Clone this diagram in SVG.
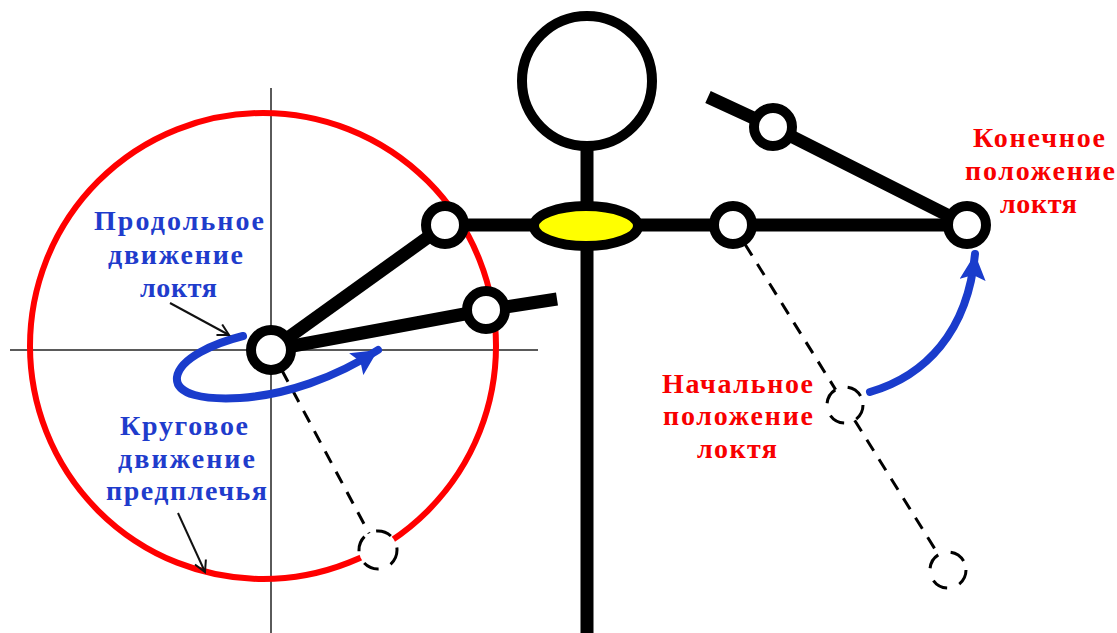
<svg xmlns="http://www.w3.org/2000/svg" width="1117" height="633" viewBox="0 0 1117 633">
<style>
.axis{stroke:#5a5a5a;stroke-width:2;fill:none}
.body{stroke:#000;stroke-width:13;fill:none;stroke-linecap:butt}
.joint{stroke:#000;stroke-width:10;fill:#fff}
.dash{stroke:#000;stroke-width:3;fill:none;stroke-dasharray:13 10}
.dashc{stroke:#000;stroke-width:3;fill:#fff;stroke-dasharray:16 13}
.blue{stroke:#1a3ccc;stroke-width:8;fill:none;stroke-linecap:round}
.thin{stroke:#111;stroke-width:2;fill:none}
.lb{font-family:"Liberation Serif","Times New Roman",serif;font-weight:bold;font-size:28px;fill:#1f3ccc}
.lr{font-family:"Liberation Serif","Times New Roman",serif;font-weight:bold;font-size:28px;fill:#f80000}
</style>
<defs>
<marker id="bh" markerUnits="userSpaceOnUse" markerWidth="28" markerHeight="26" refX="26" refY="13" orient="auto">
<path d="M0,0 L26,13 L0,26 L5,13 z" fill="#1a3ccc"/>
</marker>
<marker id="th" markerUnits="userSpaceOnUse" markerWidth="14" markerHeight="14" refX="12" refY="7" orient="auto">
<path d="M1,1 L12,7 L1,13" stroke="#111" stroke-width="2" fill="none"/>
</marker>
</defs>
<rect width="1117" height="633" fill="#fff"/>
<g id="axes">
<line class="axis" x1="10" y1="350" x2="538" y2="350"/>
<line class="axis" x1="271" y1="88" x2="271" y2="633"/>
</g>
<g id="circle-path">
<circle cx="263" cy="346" r="233" fill="none" stroke="#ff0000" stroke-width="6"/>
</g>
<g id="connectors">
<line class="dash" x1="271" y1="350" x2="378" y2="550"/>
<line class="dash" x1="733" y1="225" x2="948" y2="570"/>
<line class="body" x1="587" y1="148" x2="587" y2="633"/>
<line class="body" x1="445" y1="225" x2="967" y2="225"/>
<line class="body" x1="271" y1="350" x2="445" y2="225"/>
<polyline class="body" points="271,350 486,310 557,299"/>
<polyline class="body" points="708,97 773,127 967,225"/>
</g>
<g id="head"><circle cx="587" cy="81" r="65" fill="#fff" stroke="#000" stroke-width="10"/></g>
<g id="torso"><ellipse cx="586" cy="226" rx="52" ry="20" fill="#ffff00" stroke="#000" stroke-width="10"/></g>
<g id="shoulder-left"><circle class="joint" cx="445" cy="225" r="19"/></g>
<g id="elbow-left"><circle class="joint" cx="271" cy="350" r="20"/></g>
<g id="wrist-left"><circle class="joint" cx="486" cy="310" r="19"/></g>
<g id="shoulder-right"><circle class="joint" cx="733" cy="225" r="19"/></g>
<g id="elbow-final"><circle class="joint" cx="967" cy="225" r="19"/></g>
<g id="wrist-raised"><circle class="joint" cx="773" cy="127" r="19"/></g>
<g id="elbow-left-dashed"><circle class="dashc" cx="378" cy="550" r="19"/></g>
<g id="elbow-initial"><circle class="dashc" cx="845" cy="405" r="18"/></g>
<g id="wrist-initial"><circle class="dashc" cx="948" cy="570" r="18"/></g>
<g id="blue-arrows">
<path class="blue" d="M243,336 C215,343 180,358 177,377 C175,395 205,400 240,398 C285,395 335,378 378,350" marker-end="url(#bh)"/>
<path class="blue" d="M870,392 C925,376 968,332 975,254" marker-end="url(#bh)"/>
</g>
<g id="label-arrows">
<line class="thin" x1="170" y1="303" x2="229" y2="335" marker-end="url(#th)"/>
<line class="thin" x1="178" y1="513" x2="205" y2="572" marker-end="url(#th)"/>
</g>
<g id="label-longitudinal">
<text class="lb" x="94" y="230" textLength="170" lengthAdjust="spacing">Продольное</text>
<text class="lb" x="108" y="264" textLength="135" lengthAdjust="spacing">движение</text>
<text class="lb" x="140" y="297" textLength="77" lengthAdjust="spacing">локтя</text>
</g>
<g id="label-circular">
<text class="lb" x="120" y="435" textLength="128" lengthAdjust="spacing">Круговое</text>
<text class="lb" x="118" y="468" textLength="137" lengthAdjust="spacing">движение</text>
<text class="lb" x="106" y="500" textLength="161" lengthAdjust="spacing">предплечья</text>
</g>
<g id="label-initial">
<text class="lr" x="662" y="393" textLength="151" lengthAdjust="spacing">Начальное</text>
<text class="lr" x="663" y="425" textLength="150" lengthAdjust="spacing">положение</text>
<text class="lr" x="697" y="458" textLength="80" lengthAdjust="spacing">локтя</text>
</g>
<g id="label-final">
<text class="lr" x="973" y="147" textLength="132" lengthAdjust="spacing">Конечное</text>
<text class="lr" x="965" y="180" textLength="150" lengthAdjust="spacing">положение</text>
<text class="lr" x="1000" y="213" textLength="77" lengthAdjust="spacing">локтя</text>
</g>
</svg>
